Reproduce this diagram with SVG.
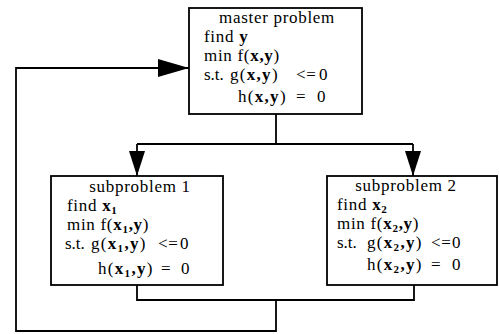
<svg xmlns="http://www.w3.org/2000/svg" width="499" height="334" viewBox="0 0 499 334">
<defs>
<style>
.box{fill:#fff;stroke:#000;stroke-width:1.8}
.ln{fill:none;stroke:#000;stroke-width:1.8}
text{font-family:"Liberation Serif","DejaVu Serif",serif;font-size:17px;fill:#000;letter-spacing:0.7px}
.b{font-weight:bold}
.sub{font-size:11px;font-weight:bold}
.f{letter-spacing:1.3px}
.st{letter-spacing:0px}
</style>
<marker id="ah" markerUnits="userSpaceOnUse" markerWidth="26" markerHeight="16" refX="25" refY="8" orient="auto">
<polygon points="0,0 25,8 0,16" fill="#000"/>
</marker>
<marker id="ahl" markerUnits="userSpaceOnUse" markerWidth="32" markerHeight="20" refX="31" refY="9" orient="auto">
<polygon points="0,0 31,9 0,18" fill="#000"/>
</marker>
</defs>
<rect width="499" height="334" fill="#fff"/>
<g id="connectors">
<path class="ln" d="M276,114 V144 M137,144 H413"/>
<path class="ln" d="M137,144 V176" marker-end="url(#ah)"/>
<path class="ln" d="M413,144 V176" marker-end="url(#ah)"/>
<path class="ln" d="M137,285 V300 H414 V285 M276,300 V331 H16 V68 H189" marker-end="url(#ahl)"/>
</g>
<g id="master">
<rect class="box" x="189" y="8" width="173" height="106"/>
<text x="277" y="23" text-anchor="middle">master problem</text>
<text x="204" y="42">find <tspan class="b">y</tspan></text>
<text x="204" y="61">min f(<tspan class="b">x,y</tspan>)</text>
<text class="st" x="204" y="80">s.t.</text>
<text class="f" x="230" y="80">g(<tspan class="b">x,y</tspan>)</text>
<text x="296" y="80">&lt;=</text>
<text x="319" y="80">0</text>
<text class="f" x="238" y="102">h(<tspan class="b">x,y</tspan>)</text>
<text x="296" y="102">=</text>
<text x="317" y="102">0</text>
</g>
<g id="subproblem1">
<rect class="box" x="51" y="176" width="172" height="109"/>
<text x="140" y="192" text-anchor="middle">subproblem 1</text>
<text x="67" y="211">find <tspan class="b">x</tspan><tspan class="sub" dy="3">1</tspan></text>
<text x="67" y="230">min f(<tspan class="b">x</tspan><tspan class="sub" dy="3">1</tspan><tspan class="b" dy="-3">,y</tspan>)</text>
<text class="st" x="65" y="249">s.t.</text>
<text class="f" x="91" y="249">g(<tspan class="b">x</tspan><tspan class="sub" dy="3">1</tspan><tspan class="b" dy="-3">,y</tspan>)</text>
<text x="158" y="249">&lt;=</text>
<text x="180" y="249">0</text>
<text class="f" x="98" y="274">h(<tspan class="b">x</tspan><tspan class="sub" dy="3">1</tspan><tspan class="b" dy="-3">,y</tspan>)</text>
<text x="161" y="274">=</text>
<text x="181" y="274">0</text>
</g>
<g id="subproblem2">
<rect class="box" x="327" y="176" width="170" height="109"/>
<text x="406" y="191" text-anchor="middle">subproblem 2</text>
<text x="337" y="210">find <tspan class="b">x</tspan><tspan class="sub" dy="3">2</tspan></text>
<text x="337" y="229">min f(<tspan class="b">x</tspan><tspan class="sub" dy="3">2</tspan><tspan class="b" dy="-3">,y</tspan>)</text>
<text class="st" x="337" y="248">s.t.</text>
<text class="f" x="367" y="248">g(<tspan class="b">x</tspan><tspan class="sub" dy="3">2</tspan><tspan class="b" dy="-3">,y</tspan>)</text>
<text x="431" y="248">&lt;=</text>
<text x="452" y="248">0</text>
<text class="f" x="367" y="270">h(<tspan class="b">x</tspan><tspan class="sub" dy="3">2</tspan><tspan class="b" dy="-3">,y</tspan>)</text>
<text x="431" y="270">=</text>
<text x="452" y="270">0</text>
</g>
</svg>
